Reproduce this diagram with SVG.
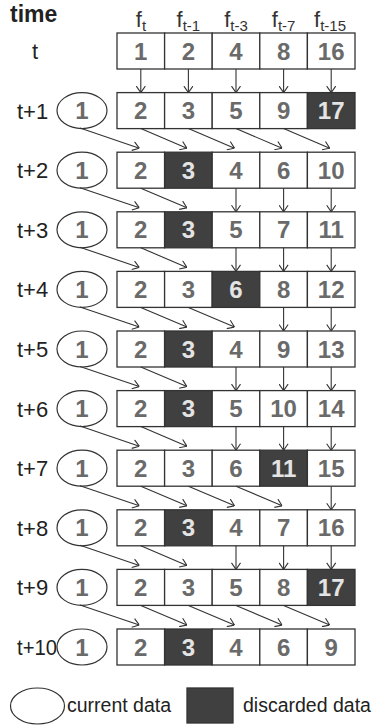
<svg xmlns="http://www.w3.org/2000/svg" width="374" height="725" viewBox="0 0 374 725">
<style>
text{font-family:"Liberation Sans",Arial,sans-serif}
.c{fill:#fff;stroke:#333;stroke-width:1.3}
.d{fill:#404040;stroke:#333;stroke-width:1.3}
.n{font-size:24px;font-weight:bold;fill:#6a6a6a;text-anchor:middle}
.nd{font-size:24px;font-weight:bold;fill:#e4e4e4;text-anchor:middle}
.e{fill:#fff;stroke:#333;stroke-width:1.2}
.l{font-size:22px;fill:#222}
.h{font-size:22px;fill:#333;text-anchor:middle}
.s{font-size:15px}
.a line{stroke:#333;stroke-width:1.1;marker-end:url(#ah)}
.lg{font-size:19.5px;fill:#222}
</style>
<defs>
<marker id="ah" viewBox="0 0 7 10" refX="7" refY="5" markerWidth="7" markerHeight="10" orient="auto" markerUnits="userSpaceOnUse">
<path d="M0.5,0.5 L7,5 L0.5,9.5" fill="none" stroke="#333" stroke-width="1.1"/>
</marker>
</defs>

<g id="header">
<text x="10" y="22" style="font-size:23px;font-weight:bold;fill:#222">time</text>
<text class="h" x="141" y="27">f<tspan class="s" dy="4">t</tspan></text>
<text class="h" x="188.4" y="27">f<tspan class="s" dy="4">t-1</tspan></text>
<text class="h" x="236" y="27">f<tspan class="s" dy="4">t-3</tspan></text>
<text class="h" x="283.6" y="27">f<tspan class="s" dy="4">t-7</tspan></text>
<text class="h" x="330" y="27">f<tspan class="s" dy="4">t-15</tspan></text>
</g>

<g id="row-t" transform="translate(0,33)">
<text class="l" x="32" y="26">t</text>
<rect class="c" x="117" y="0" width="47.6" height="36"/><text class="n" x="140.8" y="26.5">1</text>
<rect class="c" x="164.6" y="0" width="47.6" height="36"/><text class="n" x="188.4" y="26.5">2</text>
<rect class="c" x="212.2" y="0" width="47.6" height="36"/><text class="n" x="236" y="26.5">4</text>
<rect class="c" x="259.8" y="0" width="47.6" height="36"/><text class="n" x="283.6" y="26.5">8</text>
<rect class="c" x="307.4" y="0" width="47.6" height="36"/><text class="n" x="331.2" y="26.5">16</text>
</g>

<g id="row-t1" transform="translate(0,92.6)">
<text class="l" x="17" y="26">t+1</text>
<ellipse class="e" cx="82" cy="18" rx="25" ry="18"/><text class="n" x="82" y="26.5">1</text>
<rect class="c" x="117" y="0" width="47.6" height="36"/><text class="n" x="140.8" y="26.5">2</text>
<rect class="c" x="164.6" y="0" width="47.6" height="36"/><text class="n" x="188.4" y="26.5">3</text>
<rect class="c" x="212.2" y="0" width="47.6" height="36"/><text class="n" x="236" y="26.5">5</text>
<rect class="c" x="259.8" y="0" width="47.6" height="36"/><text class="n" x="283.6" y="26.5">9</text>
<rect class="d" x="307.4" y="0" width="47.6" height="36"/><text class="nd" x="331.2" y="26.5">17</text>
</g>

<g id="row-t2" transform="translate(0,152.2)">
<text class="l" x="17" y="26">t+2</text>
<ellipse class="e" cx="82" cy="18" rx="25" ry="18"/><text class="n" x="82" y="26.5">1</text>
<rect class="c" x="117" y="0" width="47.6" height="36"/><text class="n" x="140.8" y="26.5">2</text>
<rect class="d" x="164.6" y="0" width="47.6" height="36"/><text class="nd" x="188.4" y="26.5">3</text>
<rect class="c" x="212.2" y="0" width="47.6" height="36"/><text class="n" x="236" y="26.5">4</text>
<rect class="c" x="259.8" y="0" width="47.6" height="36"/><text class="n" x="283.6" y="26.5">6</text>
<rect class="c" x="307.4" y="0" width="47.6" height="36"/><text class="n" x="331.2" y="26.5">10</text>
</g>

<g id="row-t3" transform="translate(0,211.8)">
<text class="l" x="17" y="26">t+3</text>
<ellipse class="e" cx="82" cy="18" rx="25" ry="18"/><text class="n" x="82" y="26.5">1</text>
<rect class="c" x="117" y="0" width="47.6" height="36"/><text class="n" x="140.8" y="26.5">2</text>
<rect class="d" x="164.6" y="0" width="47.6" height="36"/><text class="nd" x="188.4" y="26.5">3</text>
<rect class="c" x="212.2" y="0" width="47.6" height="36"/><text class="n" x="236" y="26.5">5</text>
<rect class="c" x="259.8" y="0" width="47.6" height="36"/><text class="n" x="283.6" y="26.5">7</text>
<rect class="c" x="307.4" y="0" width="47.6" height="36"/><text class="n" x="331.2" y="26.5">11</text>
</g>

<g id="row-t4" transform="translate(0,271.4)">
<text class="l" x="17" y="26">t+4</text>
<ellipse class="e" cx="82" cy="18" rx="25" ry="18"/><text class="n" x="82" y="26.5">1</text>
<rect class="c" x="117" y="0" width="47.6" height="36"/><text class="n" x="140.8" y="26.5">2</text>
<rect class="c" x="164.6" y="0" width="47.6" height="36"/><text class="n" x="188.4" y="26.5">3</text>
<rect class="d" x="212.2" y="0" width="47.6" height="36"/><text class="nd" x="236" y="26.5">6</text>
<rect class="c" x="259.8" y="0" width="47.6" height="36"/><text class="n" x="283.6" y="26.5">8</text>
<rect class="c" x="307.4" y="0" width="47.6" height="36"/><text class="n" x="331.2" y="26.5">12</text>
</g>

<g id="row-t5" transform="translate(0,331)">
<text class="l" x="17" y="26">t+5</text>
<ellipse class="e" cx="82" cy="18" rx="25" ry="18"/><text class="n" x="82" y="26.5">1</text>
<rect class="c" x="117" y="0" width="47.6" height="36"/><text class="n" x="140.8" y="26.5">2</text>
<rect class="d" x="164.6" y="0" width="47.6" height="36"/><text class="nd" x="188.4" y="26.5">3</text>
<rect class="c" x="212.2" y="0" width="47.6" height="36"/><text class="n" x="236" y="26.5">4</text>
<rect class="c" x="259.8" y="0" width="47.6" height="36"/><text class="n" x="283.6" y="26.5">9</text>
<rect class="c" x="307.4" y="0" width="47.6" height="36"/><text class="n" x="331.2" y="26.5">13</text>
</g>

<g id="row-t6" transform="translate(0,390.6)">
<text class="l" x="17" y="26">t+6</text>
<ellipse class="e" cx="82" cy="18" rx="25" ry="18"/><text class="n" x="82" y="26.5">1</text>
<rect class="c" x="117" y="0" width="47.6" height="36"/><text class="n" x="140.8" y="26.5">2</text>
<rect class="d" x="164.6" y="0" width="47.6" height="36"/><text class="nd" x="188.4" y="26.5">3</text>
<rect class="c" x="212.2" y="0" width="47.6" height="36"/><text class="n" x="236" y="26.5">5</text>
<rect class="c" x="259.8" y="0" width="47.6" height="36"/><text class="n" x="283.6" y="26.5">10</text>
<rect class="c" x="307.4" y="0" width="47.6" height="36"/><text class="n" x="331.2" y="26.5">14</text>
</g>

<g id="row-t7" transform="translate(0,450.2)">
<text class="l" x="17" y="26">t+7</text>
<ellipse class="e" cx="82" cy="18" rx="25" ry="18"/><text class="n" x="82" y="26.5">1</text>
<rect class="c" x="117" y="0" width="47.6" height="36"/><text class="n" x="140.8" y="26.5">2</text>
<rect class="c" x="164.6" y="0" width="47.6" height="36"/><text class="n" x="188.4" y="26.5">3</text>
<rect class="c" x="212.2" y="0" width="47.6" height="36"/><text class="n" x="236" y="26.5">6</text>
<rect class="d" x="259.8" y="0" width="47.6" height="36"/><text class="nd" x="283.6" y="26.5">11</text>
<rect class="c" x="307.4" y="0" width="47.6" height="36"/><text class="n" x="331.2" y="26.5">15</text>
</g>

<g id="row-t8" transform="translate(0,509.8)">
<text class="l" x="17" y="26">t+8</text>
<ellipse class="e" cx="82" cy="18" rx="25" ry="18"/><text class="n" x="82" y="26.5">1</text>
<rect class="c" x="117" y="0" width="47.6" height="36"/><text class="n" x="140.8" y="26.5">2</text>
<rect class="d" x="164.6" y="0" width="47.6" height="36"/><text class="nd" x="188.4" y="26.5">3</text>
<rect class="c" x="212.2" y="0" width="47.6" height="36"/><text class="n" x="236" y="26.5">4</text>
<rect class="c" x="259.8" y="0" width="47.6" height="36"/><text class="n" x="283.6" y="26.5">7</text>
<rect class="c" x="307.4" y="0" width="47.6" height="36"/><text class="n" x="331.2" y="26.5">16</text>
</g>

<g id="row-t9" transform="translate(0,569.4)">
<text class="l" x="17" y="26">t+9</text>
<ellipse class="e" cx="82" cy="18" rx="25" ry="18"/><text class="n" x="82" y="26.5">1</text>
<rect class="c" x="117" y="0" width="47.6" height="36"/><text class="n" x="140.8" y="26.5">2</text>
<rect class="c" x="164.6" y="0" width="47.6" height="36"/><text class="n" x="188.4" y="26.5">3</text>
<rect class="c" x="212.2" y="0" width="47.6" height="36"/><text class="n" x="236" y="26.5">5</text>
<rect class="c" x="259.8" y="0" width="47.6" height="36"/><text class="n" x="283.6" y="26.5">8</text>
<rect class="d" x="307.4" y="0" width="47.6" height="36"/><text class="nd" x="331.2" y="26.5">17</text>
</g>

<g id="row-t10" transform="translate(0,629)">
<text class="l" x="17" y="26" textLength="40" lengthAdjust="spacingAndGlyphs">t+10</text>
<ellipse class="e" cx="82" cy="18" rx="25" ry="18"/><text class="n" x="82" y="26.5">1</text>
<rect class="c" x="117" y="0" width="47.6" height="36"/><text class="n" x="140.8" y="26.5">2</text>
<rect class="d" x="164.6" y="0" width="47.6" height="36"/><text class="nd" x="188.4" y="26.5">3</text>
<rect class="c" x="212.2" y="0" width="47.6" height="36"/><text class="n" x="236" y="26.5">4</text>
<rect class="c" x="259.8" y="0" width="47.6" height="36"/><text class="n" x="283.6" y="26.5">6</text>
<rect class="c" x="307.4" y="0" width="47.6" height="36"/><text class="n" x="331.2" y="26.5">9</text>
</g>

<g id="connectors" class="a">
<!-- t -> t+1 -->
<line x1="140.8" y1="69" x2="140.8" y2="92.6"/>
<line x1="188.4" y1="69" x2="188.4" y2="92.6"/>
<line x1="236" y1="69" x2="236" y2="92.6"/>
<line x1="283.6" y1="69" x2="283.6" y2="92.6"/>
<line x1="331.2" y1="69" x2="331.2" y2="92.6"/>
<!-- t+1 -> t+2 -->
<line x1="80" y1="128.1" x2="139.3" y2="148.2"/>
<line x1="140.8" y1="128.6" x2="186.9" y2="148.2"/>
<line x1="188.4" y1="128.6" x2="234.5" y2="148.2"/>
<line x1="236" y1="128.6" x2="282.1" y2="148.2"/>
<line x1="283.6" y1="128.6" x2="329.7" y2="148.2"/>
<!-- t+2 -> t+3 -->
<line x1="80" y1="187.7" x2="139.3" y2="207.8"/>
<line x1="140.8" y1="188.2" x2="186.9" y2="207.8"/>
<line x1="236" y1="188.2" x2="236" y2="211.8"/>
<line x1="283.6" y1="188.2" x2="283.6" y2="211.8"/>
<line x1="331.2" y1="188.2" x2="331.2" y2="211.8"/>
<!-- t+3 -> t+4 -->
<line x1="80" y1="247.3" x2="139.3" y2="267.4"/>
<line x1="140.8" y1="247.8" x2="186.9" y2="267.4"/>
<line x1="236" y1="247.8" x2="236" y2="271.4"/>
<line x1="283.6" y1="247.8" x2="283.6" y2="271.4"/>
<line x1="331.2" y1="247.8" x2="331.2" y2="271.4"/>
<!-- t+4 -> t+5 -->
<line x1="80" y1="306.9" x2="139.3" y2="327"/>
<line x1="140.8" y1="307.4" x2="186.9" y2="327"/>
<line x1="188.4" y1="307.4" x2="234.5" y2="327"/>
<line x1="283.6" y1="307.4" x2="283.6" y2="331"/>
<line x1="331.2" y1="307.4" x2="331.2" y2="331"/>
<!-- t+5 -> t+6 -->
<line x1="80" y1="366.5" x2="139.3" y2="386.6"/>
<line x1="140.8" y1="367" x2="186.9" y2="386.6"/>
<line x1="236" y1="367" x2="236" y2="390.6"/>
<line x1="283.6" y1="367" x2="283.6" y2="390.6"/>
<line x1="331.2" y1="367" x2="331.2" y2="390.6"/>
<!-- t+6 -> t+7 -->
<line x1="80" y1="426.1" x2="139.3" y2="446.2"/>
<line x1="140.8" y1="426.6" x2="186.9" y2="446.2"/>
<line x1="236" y1="426.6" x2="236" y2="450.2"/>
<line x1="283.6" y1="426.6" x2="283.6" y2="450.2"/>
<line x1="331.2" y1="426.6" x2="331.2" y2="450.2"/>
<!-- t+7 -> t+8 -->
<line x1="80" y1="485.7" x2="139.3" y2="505.8"/>
<line x1="140.8" y1="486.2" x2="186.9" y2="505.8"/>
<line x1="188.4" y1="486.2" x2="234.5" y2="505.8"/>
<line x1="236" y1="486.2" x2="282.1" y2="505.8"/>
<line x1="331.2" y1="486.2" x2="331.2" y2="509.8"/>
<!-- t+8 -> t+9 -->
<line x1="80" y1="545.3" x2="139.3" y2="565.4"/>
<line x1="140.8" y1="545.8" x2="186.9" y2="565.4"/>
<line x1="236" y1="545.8" x2="236" y2="569.4"/>
<line x1="283.6" y1="545.8" x2="283.6" y2="569.4"/>
<line x1="331.2" y1="545.8" x2="331.2" y2="569.4"/>
<!-- t+9 -> t+10 -->
<line x1="80" y1="604.9" x2="139.3" y2="625"/>
<line x1="140.8" y1="605.4" x2="186.9" y2="625"/>
<line x1="188.4" y1="605.4" x2="234.5" y2="625"/>
<line x1="236" y1="605.4" x2="282.1" y2="625"/>
<line x1="283.6" y1="605.4" x2="329.7" y2="625"/>
</g>

<g id="legend">
<ellipse class="e" cx="37.5" cy="706" rx="27" ry="18"/>
<text class="lg" x="67" y="712">current data</text>
<rect class="d" x="187" y="688" width="46" height="35"/>
<text class="lg" x="243" y="712">discarded data</text>
</g>
</svg>
